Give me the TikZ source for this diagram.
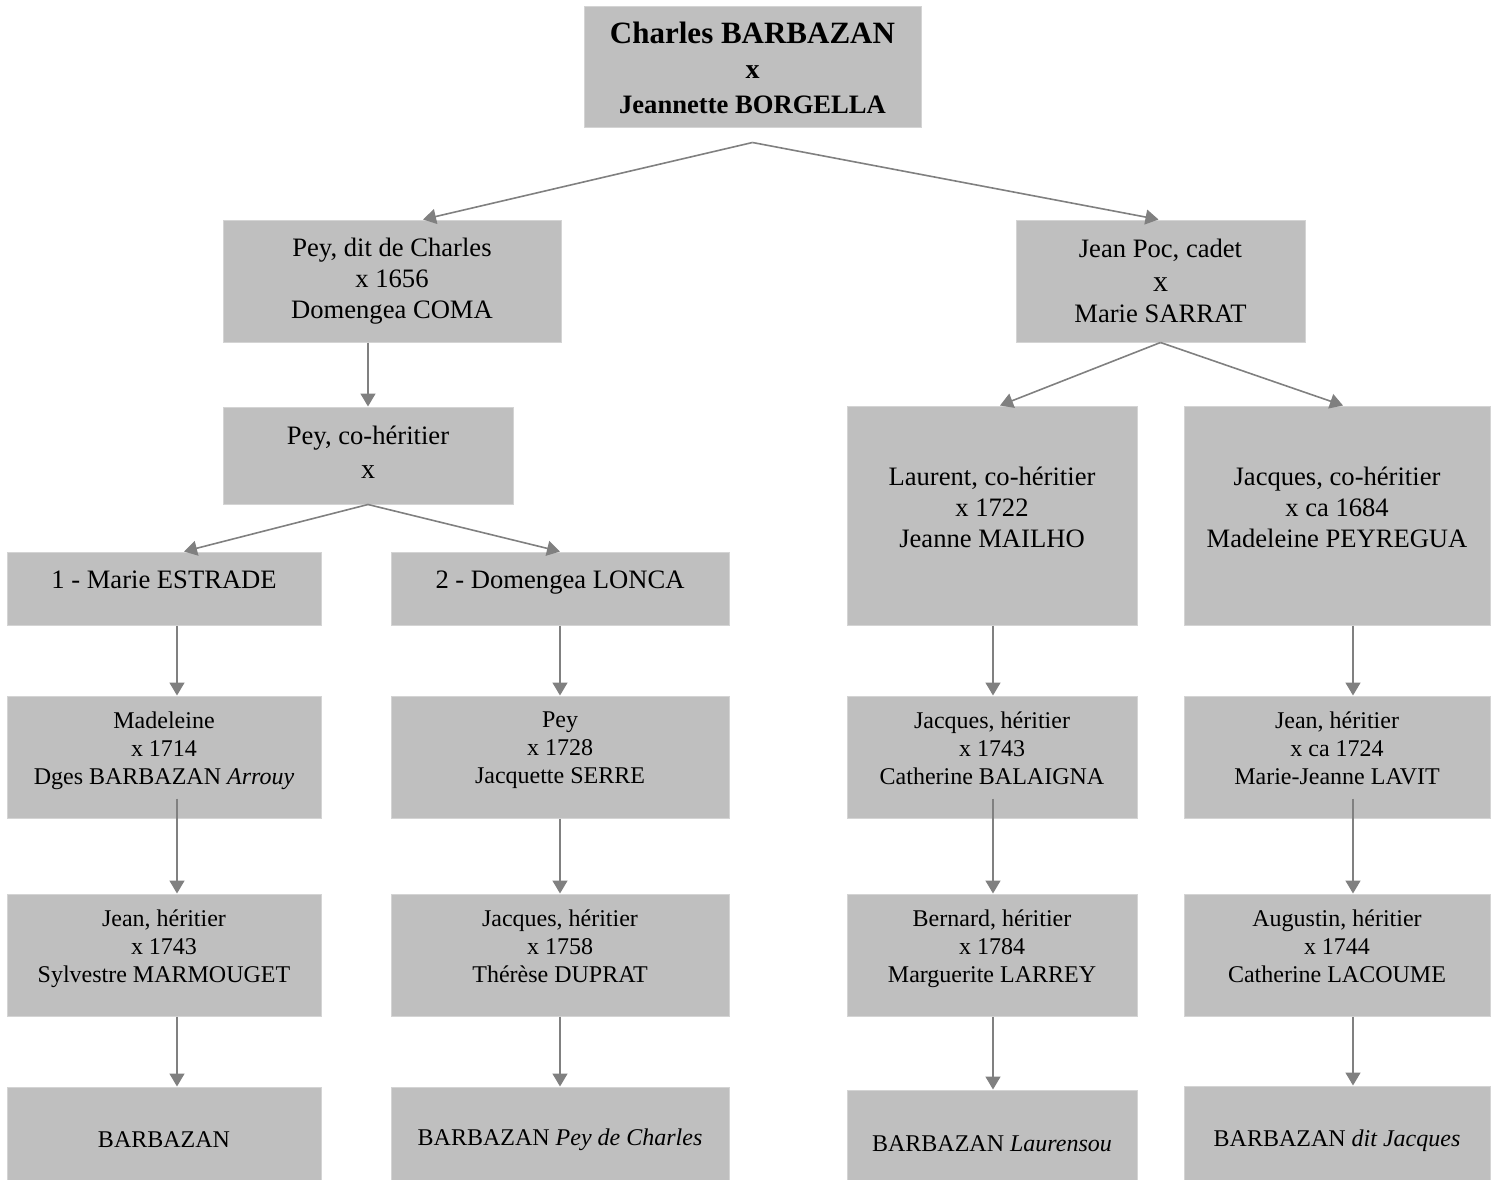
\documentclass[tikz,border=0pt]{standalone}
\usepackage{fontspec}
\setmainfont{Liberation Serif}
\usetikzlibrary{arrows.meta}
\definecolor{fondgris}{RGB}{191,191,191}
\definecolor{bordgris}{RGB}{212,212,212}
\definecolor{flechegris}{RGB}{128,128,128}

\tikzset{
  boite/.style={rectangle, fill=fondgris, draw=bordgris, line width=1pt, inner sep=0pt,
    align=center, font=\fontsize{26.6}{31}\selectfont},
  % hauteur et profondeur fixes des lignes extremes
  calage/.style 2 args={execute at begin node={\rule{0pt}{#1}},
    execute at end node={\rule[-#2]{0pt}{#2}}},
  petit/.style={font=\fontsize{24}{28}\selectfont, minimum height=122pt, calage={20pt}{18pt}},
  maison/.style={font=\fontsize{24}{28}\selectfont},
  col1/.style={minimum width=314pt},
  col2/.style={minimum width=338pt},
  col3/.style={minimum width=290pt},
  col4/.style={minimum width=306pt},
  fleche/.style={draw=flechegris, line width=1.6pt, -{Triangle[length=13pt,width=15pt]}},
}

\begin{document}
\begin{tikzpicture}[x=1pt, y=-1pt]
\clip (0,0) rectangle (1492,1180);

% couple souche
\node[boite, minimum width=337pt, minimum height=121pt, calage={29pt}{0pt},
  font=\fontsize{26.6}{35}\selectfont\bfseries] (charles) at (752.5,67.5)
  {{\fontsize{31}{35}\selectfont Charles BARBAZAN}\\{\fontsize{28}{35}\selectfont x}\\Jeannette BORGELLA};

% enfants
\node[boite, minimum width=338pt, minimum height=122pt] (pey) at (392,281) {Pey, dit de Charles\\x 1656\\Domengea COMA};
\node[boite, minimum width=289pt, minimum height=122pt] (jeanpoc) at (1160.5,281) {Jean Poc, cadet\\[3pt]{\fontsize{30}{34}\selectfont x}\\Marie SARRAT};

% branche Pey
\node[boite, minimum width=290pt, minimum height=97pt, calage={20pt}{6pt}] (peyco) at (368,455.5) {Pey, co-héritier\\[3pt]{\fontsize{28}{34}\selectfont x}};
\node[boite, col1, minimum height=73pt, text height=10pt, text depth=10pt] (estrade) at (164,588.5) {1 - Marie ESTRADE};
\node[boite, col2, minimum height=73pt, text height=10pt, text depth=10pt] (lonca) at (560,588.5) {2 - Domengea LONCA};

% branche Jean Poc
\node[boite, col3, minimum height=219pt, calage={20pt}{16pt}] (laurent) at (992,515.5) {Laurent, co-héritier\\x 1722\\Jeanne MAILHO};
\node[boite, col4, minimum height=219pt, calage={20pt}{16pt}] (jacques) at (1337,515.5) {Jacques, co-héritier\\x ca 1684\\Madeleine PEYREGUA};

% generation suivante
\node[boite, petit, col1] (madeleine) at (164,757) {Madeleine\\x 1714\\Dges BARBAZAN \textit{Arrouy}};
\node[boite, petit, col2] (peyserre) at (560,757) {Pey\\x 1728\\Jacquette SERRE};
\node[boite, petit, col3] (jacqbal) at (992,757) {Jacques, héritier\\x 1743\\Catherine BALAIGNA};
\node[boite, petit, col4] (jeanlavit) at (1337,757) {Jean, héritier\\x ca 1724\\Marie-Jeanne LAVIT};

\node[boite, petit, col1] (jeanmar) at (164,955) {Jean, héritier\\x 1743\\Sylvestre MARMOUGET};
\node[boite, petit, col2] (jacqdup) at (560,955) {Jacques, héritier\\x 1758\\Thérèse DUPRAT};
\node[boite, petit, col3] (bernard) at (992,955) {Bernard, héritier\\x 1784\\Marguerite LARREY};
\node[boite, petit, col4] (augustin) at (1337,955) {Augustin, héritier\\x 1744\\Catherine LACOUME};

% maisons
\node[boite, maison, col1, minimum height=106pt] (barb1) at (164,1140) {BARBAZAN};
\node[boite, maison, col2, minimum height=106pt] (barb2) at (560,1140) {BARBAZAN \textit{Pey de Charles}};
\node[boite, maison, col3, minimum height=108pt] (barb3) at (992,1144) {BARBAZAN \textit{Laurensou}};
\node[boite, maison, col4, minimum height=110pt] (barb4) at (1337,1141) {BARBAZAN \textit{dit Jacques}};

% liens
\coordinate (charles-bas) at ([yshift=-14pt]charles.south);
\draw[fleche] (charles-bas) -- ([xshift=31pt]pey.north);
\draw[fleche] (charles-bas) -- ([xshift=-2pt]jeanpoc.north);
\draw[fleche] (pey.south -| peyco.north) -- (peyco.north);
\draw[fleche] (peyco.south) -- ([xshift=20pt]estrade.north);
\draw[fleche] (peyco.south) -- (lonca.north);
\draw[fleche] (jeanpoc.south) -- ([xshift=8pt]laurent.north);
\draw[fleche] (jeanpoc.south) -- ([xshift=6pt]jacques.north);

\draw[fleche] ([xshift=13pt]estrade.south) -- ([xshift=13pt]madeleine.north);
\draw[fleche] (lonca.south) -- (peyserre.north);
\draw[fleche] ([xshift=1pt]laurent.south) -- ([xshift=1pt]jacqbal.north);
\draw[fleche] ([xshift=16pt]jacques.south) -- ([xshift=16pt]jeanlavit.north);

\draw[fleche] ([xshift=13pt,yshift=20pt]madeleine.south) -- ([xshift=13pt]jeanmar.north);
\draw[fleche] (peyserre.south) -- (jacqdup.north);
\draw[fleche] ([xshift=1pt,yshift=20pt]jacqbal.south) -- ([xshift=1pt]bernard.north);
\draw[fleche] ([xshift=16pt,yshift=20pt]jeanlavit.south) -- ([xshift=16pt]augustin.north);

\draw[fleche] ([xshift=13pt]jeanmar.south) -- ([xshift=13pt]barb1.north);
\draw[fleche] (jacqdup.south) -- (barb2.north);
\draw[fleche] ([xshift=1pt]bernard.south) -- ([xshift=1pt]barb3.north);
\draw[fleche] ([xshift=16pt]augustin.south) -- ([xshift=16pt]barb4.north);
\end{tikzpicture}
\end{document}
